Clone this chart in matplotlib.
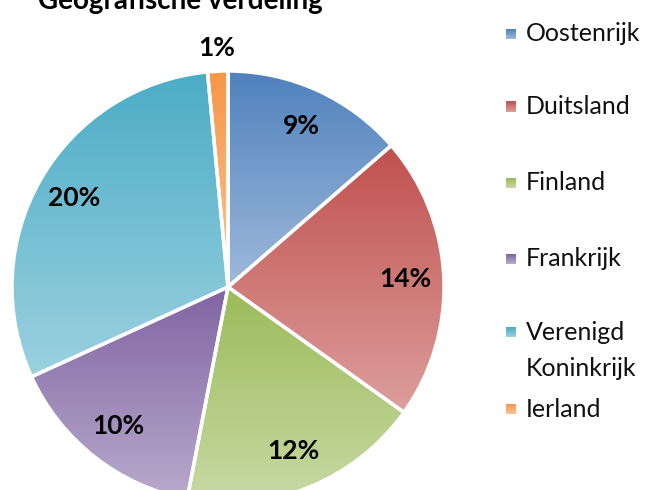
import numpy as np
import matplotlib
matplotlib.use("Agg")
import matplotlib.pyplot as plt
from matplotlib.colors import to_rgb

categories = ["Oostenrijk", "Duitsland", "Finland", "Frankrijk", "Verenigd\nKoninkrijk", "Ierland"]
values = [9, 14, 12, 10, 20, 1]
pct_labels = ["9%", "14%", "12%", "10%", "20%", "1%"]
colors = ["#4F81BD", "#C0504D", "#9BBB59", "#8064A2", "#4BACC6", "#F79646"]
title = "Geografische verdeling"

plt.rcParams['font.family'] = ['Lato', 'DejaVu Sans']
W, H = 647, 490
fig = plt.figure(figsize=(W / 100, H / 100), dpi=100)
ax = fig.add_axes([0, 0, 1, 1])
cx, cy, R = 228, H - 287, 216

wedges, _ = ax.pie(values, center=(cx, cy), radius=R, startangle=90,
                   counterclock=False, frame=True,
                   wedgeprops=dict(linewidth=2.5, edgecolor='white'))


def lighten(c, f):
    r = np.array(to_rgb(c))
    return r + (1 - r) * f


def gradient(c, n=256):
    t = np.linspace(0, 1, n)[:, None, None]
    top = np.array(to_rgb(c))[None, None, :]
    bot = lighten(c, 0.45)[None, None, :]
    return top * (1 - t) + bot * t


for w, c in zip(wedges, colors):
    ext = w.get_path().get_extents()
    w.set_facecolor('none')
    w.set_zorder(3)
    im = ax.imshow(gradient(c), extent=(ext.x0, ext.x1, ext.y0, ext.y1),
                   aspect='auto', interpolation='bilinear', zorder=2)
    im.set_clip_path(w)

for w, lab in zip(wedges, pct_labels):
    mid = np.deg2rad((w.theta1 + w.theta2) / 2)
    frac = 1.11 if lab == "1%" else 0.82
    ax.text(cx + frac * R * np.cos(mid), cy + frac * R * np.sin(mid), lab,
            ha='center', va='center', fontsize=19, fontweight='bold',
            color='black', zorder=5)

# legend
leg_y = [34, 107, 183, 259, 332, 409]
for y, lab, c in zip(leg_y, categories, colors):
    yy = H - y
    ax.imshow(gradient(c, 32), extent=(506, 516, yy - 5, yy + 5),
              aspect='auto', interpolation='bilinear', zorder=4)
    lines = lab.split('\n')
    for k, line in enumerate(lines):
        ax.text(526, yy - 37 * k, line, ha='left', va='center', fontsize=18,
                color='#111111', zorder=5)

fig.text(180 / W, 1 - 9 / H, title, ha='center', va='baseline',
         fontsize=20, fontweight='bold', color='black')

ax.set_xlim(0, W)
ax.set_ylim(0, H)
ax.axis('off')
fig.savefig("out.png", dpi=100)
